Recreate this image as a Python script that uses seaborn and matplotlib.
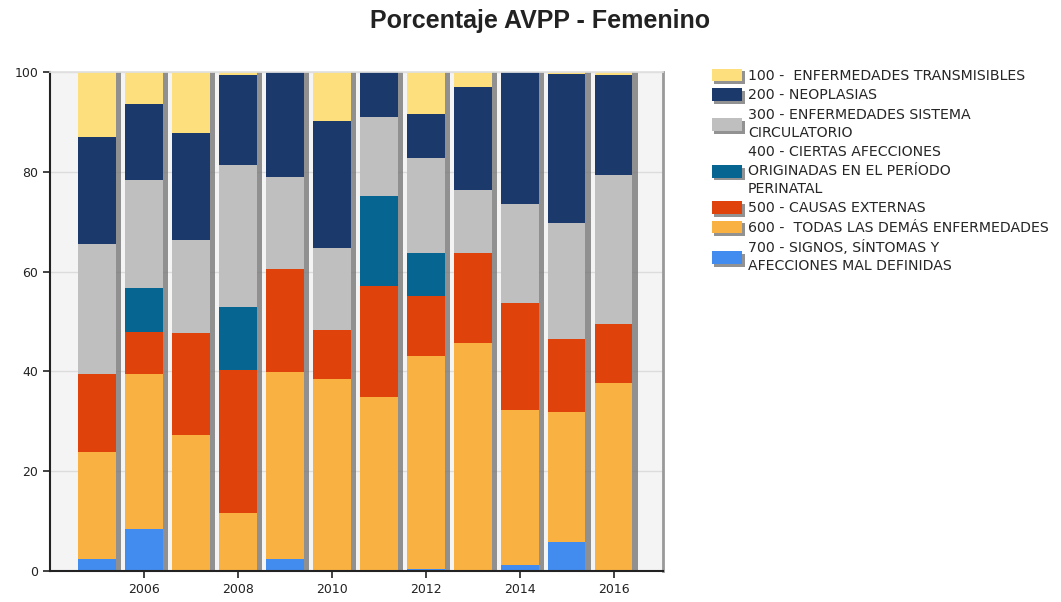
import matplotlib
matplotlib.use("Agg")
import matplotlib.pyplot as plt
import matplotlib.patheffects as pe
from matplotlib.patches import Patch
import numpy as np
import seaborn as sns

years = [2005, 2006, 2007, 2008, 2009, 2010, 2011, 2012, 2013, 2014, 2015, 2016]
transmisibles = [13.1, 6.4, 12.2, 0.7, 0.0, 9.9, 0.0, 8.4, 3.0, 0.0, 0.4, 0.7]
neoplasias = [21.3, 15.3, 21.4, 18.0, 21.0, 25.3, 9.1, 8.8, 20.6, 26.4, 29.8, 19.9]
circulatorio = [26.1, 21.5, 18.8, 28.3, 18.4, 16.5, 15.7, 19.1, 12.7, 19.9, 23.3, 29.9]
perinatal = [0.0, 8.9, 0.0, 12.7, 0.0, 0.0, 18.0, 8.5, 0.0, 0.0, 0.0, 0.0]
externas = [15.7, 8.4, 20.3, 28.6, 20.7, 9.9, 22.3, 12.2, 18.0, 21.4, 14.6, 11.9]
demas = [21.4, 31.0, 27.3, 11.7, 37.5, 38.4, 34.9, 42.5, 45.7, 31.1, 26.0, 37.6]
mal_definidas = [2.4, 8.5, 0.0, 0.0, 2.4, 0.0, 0.0, 0.5, 0.0, 1.2, 5.9, 0.0]

labels = [
    "100 -  ENFERMEDADES TRANSMISIBLES",
    "200 - NEOPLASIAS",
    "300 - ENFERMEDADES SISTEMA\nCIRCULATORIO",
    "400 - CIERTAS AFECCIONES\nORIGINADAS EN EL PERÍODO\nPERINATAL",
    "500 - CAUSAS EXTERNAS",
    "600 -  TODAS LAS DEMÁS ENFERMEDADES",
    "700 - SIGNOS, SÍNTOMAS Y\nAFECCIONES MAL DEFINIDAS",
]
series = [transmisibles, neoplasias, circulatorio, perinatal, externas, demas, mal_definidas]
colors = ["#fddf7e", "#1b3a6b", "#bfbfbf", "#066591", "#df420b", "#f9b242", "#428cef"]

sns.set_theme(style="white")
plt.rcParams["font.family"] = ["DejaVu Sans"]

fig = plt.figure(figsize=(10.61, 6.02), dpi=100)
ax = fig.add_axes([50 / 1061, 1 - 571 / 602, 613 / 1061, 499 / 602])
ax.set_facecolor("#f4f4f4")

shadow = [pe.SimplePatchShadow(offset=(4, 0), shadow_rgbFace="#777777", alpha=0.8), pe.Normal()]

# stack from the bottom (700) up to the top (100)
bottom = np.zeros(len(years))
for vals, col in zip(series[::-1], colors[::-1]):
    n0 = len(ax.patches)
    sns.barplot(x=years, y=vals, bottom=bottom, color=col, saturation=1, width=0.8,
                native_scale=True, errorbar=None, linewidth=0, ax=ax)
    for p in ax.patches[n0:]:
        p.set_path_effects(shadow)
    bottom = bottom + np.array(vals)

ax.set_xlim(2004, 2017.05)
ax.set_ylim(0, 100)
ax.set_xticks([2006, 2008, 2010, 2012, 2014, 2016])
ax.set_xticklabels(["2006", "2008", "2010", "2012", "2014", "2016"])
ax.set_yticks([0, 20, 40, 60, 80, 100])
ax.set_yticklabels(["0", "20", "40", "60", "80", "100"])
ax.yaxis.grid(True, color="#dcdcdc", linewidth=1)
ax.set_axisbelow(True)
ax.tick_params(axis="both", which="major", direction="out", length=5, width=1.2,
               color="#222222", labelsize=9, labelcolor="#222222", left=True, bottom=True)
for s in ["left", "bottom"]:
    ax.spines[s].set_color("#222222")
    ax.spines[s].set_linewidth(1.5)
ax.spines["right"].set_color("#999999")
ax.spines["right"].set_linewidth(2)
ax.spines["top"].set_color("#e0e0e0")
ax.set_xlabel("")
ax.set_ylabel("")

fig.text(0.509, 0.965, "Porcentaje AVPP - Femenino", ha="center", va="center",
         fontsize=18, fontweight="bold", color="#222222", family="Liberation Sans")

handles = [Patch(facecolor=c, edgecolor="none", label=l,
                 path_effects=[pe.SimplePatchShadow(offset=(2, -2), shadow_rgbFace="#777777", alpha=0.8), pe.Normal()])
           for c, l in zip(colors, labels)]
leg = fig.legend(handles=handles, loc="upper left", bbox_to_anchor=(706 / 1061, 1 - 63 / 602),
                 frameon=False, fontsize=10.2, handlelength=2.15, handleheight=1.0,
                 handletextpad=0.4, labelspacing=0.38, borderaxespad=0)
for t in leg.get_texts():
    t.set_linespacing(1.38)

fig.savefig("out.png", dpi=100)
